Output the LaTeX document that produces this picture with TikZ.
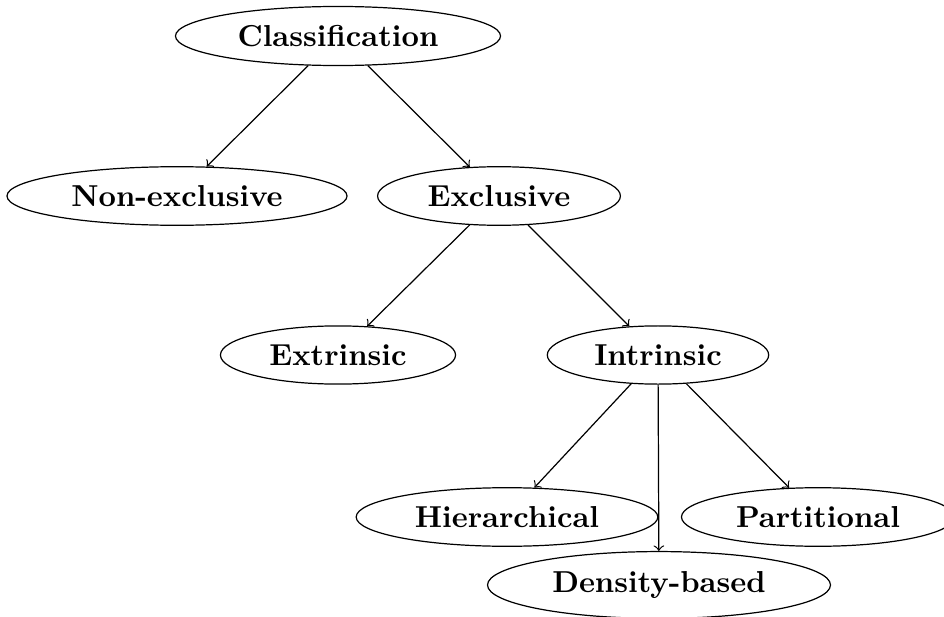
\documentclass[tikz,border=0pt]{standalone}
\usetikzlibrary{shapes.geometric}
\begin{document}
\begin{tikzpicture}[x=0.33pt,y=-0.33pt,
  cls/.style={draw,ellipse,font=\bfseries,inner xsep=4.8pt},
  arr/.style={->}]
\useasboundingbox (0,0) rectangle (944,617);
\node[cls] (c) at (338,36) {Classification};
\node[cls] (ne) at (177,196) {Non-exclusive};
\node[cls] (ex) at (499,196) {Exclusive};
\node[cls] (ext) at (338,355) {Extrinsic};
\node[cls] (int) at (658,355) {Intrinsic};
\node[cls] (hi) at (507,517) {Hierarchical};
\node[cls] (pa) at (818,517) {Partitional};
\node[cls] (de) at (659,585) {Density-based};
\draw[arr] (c) -- (ne);
\draw[arr] (c) -- (ex);
\draw[arr] (ex) -- (ext);
\draw[arr] (ex) -- (int);
\draw[arr] (int) -- (hi);
\draw[arr] (int) -- (pa);
\draw[arr] (int) -- (de);
\end{tikzpicture}
\end{document}
